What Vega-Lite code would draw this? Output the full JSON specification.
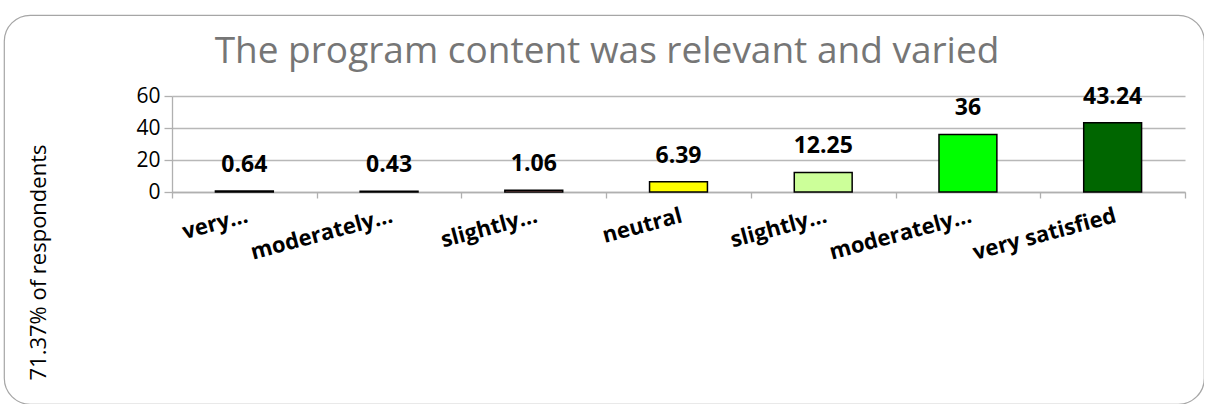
{
  "$schema": "https://vega.github.io/schema/vega-lite/v6.json",
  "autosize": {"type": "none"},
  "padding": {"left": 4, "top": 15, "right": 0, "bottom": 0},
  "width": 1200,
  "height": 389,
  "background": "white",
  "config": {
    "font": "Open Sans",
    "view": {"stroke": "#a6a6a6", "strokeWidth": 1.2, "cornerRadius": 26}
  },
  "title": {
    "text": "The program content was relevant and varied",
    "font": "Open Sans",
    "fontSize": 37,
    "fontWeight": "normal",
    "color": "#767676",
    "anchor": "middle",
    "frame": "group",
    "baseline": "alphabetic",
    "offset": -85,
    "dx": 3
  },
  "data": {
    "values": [
      {"category": "very…", "value": 0.64, "label": "0.64", "color": "#c00000"},
      {"category": "moderately…", "value": 0.43, "label": "0.43", "color": "#ff0000"},
      {"category": "slightly…", "value": 1.06, "label": "1.06", "color": "#ff9999"},
      {"category": "neutral", "value": 6.39, "label": "6.39", "color": "#ffff00"},
      {"category": "slightly… ", "value": 12.25, "label": "12.25", "color": "#ccff99"},
      {"category": "moderately… ", "value": 36, "label": "36", "color": "#00ff00"},
      {"category": "very satisfied", "value": 43.24, "label": "43.24", "color": "#006600"}
    ]
  },
  "encoding": {
    "x": {
      "field": "category",
      "type": "nominal",
      "sort": null,
      "scale": {"range": [168, 1181], "paddingInner": 0, "paddingOuter": 0},
      "axis": {
        "title": null,
        "orient": "bottom",
        "offset": -212,
        "domainColor": "#b0b0b0",
        "domainWidth": 1.3,
        "tickColor": "#b0b0b0",
        "tickWidth": 1.3,
        "tickSize": 6,
        "tickBand": "extent",
        "labelAngle": -15,
        "labelAlign": "right",
        "labelBaseline": "top",
        "labelPadding": 7,
        "labelFont": "Open Sans",
        "labelFontSize": 22,
        "labelFontWeight": "bold",
        "labelColor": "#000000",
        "labelLimit": 0,
        "grid": false
      }
    },
    "y": {
      "field": "value",
      "type": "quantitative",
      "scale": {"domain": [0, 60], "nice": false, "zero": true, "range": [177, 81]},
      "axis": {
        "title": "71.37% of respondents",
        "titleFont": "Open Sans",
        "titleFontSize": 22,
        "titleFontWeight": "normal",
        "titleColor": "#000000",
        "titleAngle": -90,
        "titleAlign": "center",
        "titleBaseline": "middle",
        "titleX": -134,
        "titleY": 247,
        "orient": "left",
        "offset": -168,
        "values": [0, 20, 40, 60],
        "domainColor": "#b0b0b0",
        "domainWidth": 1.3,
        "tickColor": "#b0b0b0",
        "tickWidth": 1.3,
        "tickSize": 8,
        "labelFont": "Open Sans",
        "labelFontSize": 21,
        "labelColor": "#000000",
        "labelPadding": 4,
        "grid": true,
        "gridColor": "#b8b8b8",
        "gridWidth": 1.3
      }
    }
  },
  "layer": [
    {
      "mark": {"type": "bar", "width": {"band": 0.4}, "stroke": "#000000", "strokeWidth": 1.5},
      "encoding": {
        "color": {"field": "color", "type": "nominal", "scale": null, "legend": null}
      }
    },
    {
      "mark": {"type": "text", "font": "Open Sans", "fontSize": 23, "fontWeight": "bold", "baseline": "alphabetic", "dy": -19, "color": "#000000"},
      "encoding": {"text": {"field": "label", "type": "nominal"}}
    }
  ]
}
